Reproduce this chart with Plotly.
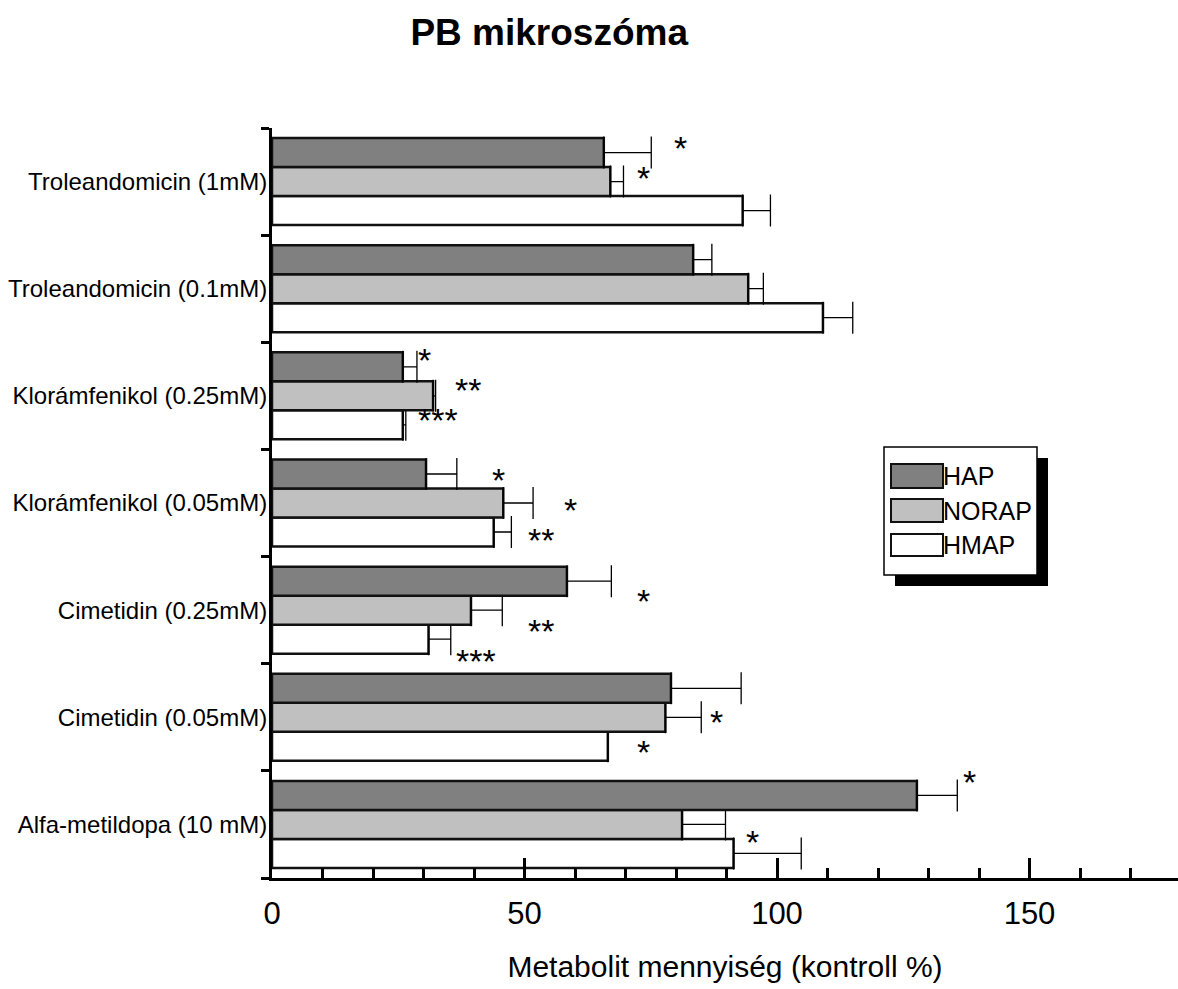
import plotly.graph_objects as go

# ---------------- data ----------------
categories = [
    "Troleandomicin (1mM)",
    "Troleandomicin (0.1mM)",
    "Klorámfenikol (0.25mM)",
    "Klorámfenikol (0.05mM)",
    "Cimetidin (0.25mM)",
    "Cimetidin (0.05mM)",
    "Alfa-metildopa (10 mM)",
]
series_names = ["HAP", "NORAP", "HMAP"]
hap = [65.7, 83.4, 25.9, 30.5, 58.4, 79.0, 127.7]
hap_err = [9.4, 3.7, 2.8, 6.1, 8.8, 13.9, 8.0]
norap = [67.0, 94.3, 31.9, 45.8, 39.4, 77.9, 81.2]
norap_err = [2.6, 3.0, 0.5, 5.9, 6.2, 7.1, 8.6]
hmap = [93.2, 109.1, 25.9, 43.9, 31.0, 66.5, 91.4]
hmap_err = [5.5, 5.9, 0.6, 3.5, 4.4, None, 13.4]

# significance marks: category, x value, text, vertical offset (category units)
sig_category = ["Troleandomicin (1mM)", "Troleandomicin (1mM)",
                "Klorámfenikol (0.25mM)", "Klorámfenikol (0.25mM)", "Klorámfenikol (0.25mM)",
                "Klorámfenikol (0.05mM)", "Klorámfenikol (0.05mM)", "Klorámfenikol (0.05mM)",
                "Cimetidin (0.25mM)", "Cimetidin (0.25mM)", "Cimetidin (0.25mM)",
                "Cimetidin (0.05mM)", "Cimetidin (0.05mM)",
                "Alfa-metildopa (10 mM)", "Alfa-metildopa (10 mM)"]
sig_x = [80.9, 73.6, 30.1, 38.8, 32.9, 44.8, 59.1, 53.3, 73.6, 53.3, 40.3, 88.1, 73.6, 138.2, 95.2]
sig_text = ["*", "*", "*", "**", "***", "*", "*", "**", "*", "**", "***", "*", "*", "*", "*"]
sig_dy = [0.34, 0.06, 0.36, 0.08, -0.20, 0.24, -0.04, -0.32, 0.115, -0.165, -0.445, -0.02, -0.30, 0.42, -0.14]

title_text = "PB mikroszóma"
x_title = "Metabolit mennyiség (kontroll %)"
x_ticks = [0, 50, 100, 150]

# ---------------- layout geometry ----------------
W, H = 1178, 989
L, R, T, B = 272, 0, 128, 111
PW, PH = W - L - R, H - T - B

def px(x):
    return (x - L) / PW

def py(y):
    return (H - B - y) / PH

FONT = "Liberation Sans, Arial, sans-serif"
LINE = "#111111"

n = len(categories)
ypos = [n - 1 - i for i in range(n)]  # first category drawn at top
cat_y = dict(zip(categories, ypos))

colors = {"HAP": "#808080", "NORAP": "#c0c0c0", "HMAP": "#ffffff"}
values = {"HAP": hap, "NORAP": norap, "HMAP": hmap}
errors = {"HAP": hap_err, "NORAP": norap_err, "HMAP": hmap_err}

fig = go.Figure()
# plotly places grouped horizontal bars bottom-up, so add HMAP first
for name in reversed(series_names):
    fig.add_trace(go.Bar(
        name=name,
        orientation="h",
        y=ypos,
        x=values[name],
        marker=dict(color=colors[name], line=dict(color=LINE, width=2.5)),
        error_x=dict(type="data", symmetric=False, array=errors[name],
                     arrayminus=[0] * n, color="#000000", thickness=1.3, width=16),
        showlegend=False,
        hoverinfo="x+name",
    ))

annotations = []
for c, xv, t, dy in zip(sig_category, sig_x, sig_text, sig_dy):
    annotations.append(dict(
        x=xv, y=cat_y[c] + dy, xref="x", yref="y", text=t, showarrow=False,
        font=dict(family=FONT, size=34, color="#000"), xanchor="center",
        yanchor="middle", yshift=-3,
    ))

# ---------------- manual legend with drop shadow ----------------
shapes = []
box = (884, 447, 1037, 575)
sh = 11
shapes.append(dict(type="rect", xref="paper", yref="paper",
                   x0=px(box[0] + sh), x1=px(box[2] + sh), y0=py(box[3] + sh), y1=py(box[1] + sh),
                   fillcolor="#000000", line=dict(width=0), layer="above"))
shapes.append(dict(type="rect", xref="paper", yref="paper",
                   x0=px(box[0]), x1=px(box[2]), y0=py(box[3]), y1=py(box[1]),
                   fillcolor="#ffffff", line=dict(color="#000", width=1.5), layer="above"))
sym_rows = [(464, 488), (499, 522), (534, 556)]
for name, (y0, y1) in zip(series_names, sym_rows):
    shapes.append(dict(type="rect", xref="paper", yref="paper",
                       x0=px(891), x1=px(943), y0=py(y1), y1=py(y0),
                       fillcolor=colors[name], line=dict(color=LINE, width=2), layer="above"))
    annotations.append(dict(x=px(941), y=py((y0 + y1) / 2), xref="paper", yref="paper",
                            text=name, showarrow=False, xanchor="left", yanchor="middle",
                            font=dict(family=FONT, size=25, color="#000")))

fig.update_layout(
    width=W, height=H,
    margin=dict(l=L, r=R, t=T, b=B, autoexpand=False),
    paper_bgcolor="white", plot_bgcolor="white",
    barmode="group", bargap=0.188, bargroupgap=0,
    title=dict(text=title_text, x=0.306, xanchor="center", xref="paper",
               y=1 - 32 / H, yanchor="middle", yref="container",
               font=dict(family=FONT, size=37, color="#000", weight="bold")),
    xaxis=dict(
        range=[0, PW / 5.05], tickmode="array", tickvals=x_ticks,
        ticks="inside", ticklen=20, tickwidth=2.5, tickcolor="#000",
        minor=dict(dtick=10, tick0=0, ticks="inside", ticklen=10, tickwidth=2.5, tickcolor="#000"),
        showline=True, linewidth=3, linecolor="#000", showgrid=False, zeroline=False,
        tickfont=dict(family=FONT, size=31, color="#000"), ticklabelstandoff=6,
        title=dict(text=x_title, font=dict(family=FONT, size=30, color="#000"), standoff=26),
        automargin=False,
    ),
    yaxis=dict(
        range=[-0.5, n - 0.5], tickmode="array", tickvals=ypos, ticktext=categories,
        ticks="", showline=True, linewidth=3, linecolor="#000", showgrid=False, zeroline=False,
        minor=dict(tickmode="array", tickvals=[k - 0.5 for k in range(n + 1)], ticks="outside",
                   ticklen=8, tickwidth=3, tickcolor="#000"),
        tickfont=dict(family=FONT, size=24, color="#000"), ticklabelstandoff=-3,
        automargin=False,
    ),
    yaxis2=dict(
        overlaying="y", anchor="x", side="left", range=[-0.5, n - 0.5],
        tickmode="array", tickvals=[k - 0.5 for k in range(n + 1)],
        ticks="inside", ticklen=8, tickwidth=3, tickcolor="#000",
        showticklabels=False, showline=False, showgrid=False, zeroline=False,
    ),
    shapes=shapes,
    annotations=annotations,
)

fig.write_html("out.html")
